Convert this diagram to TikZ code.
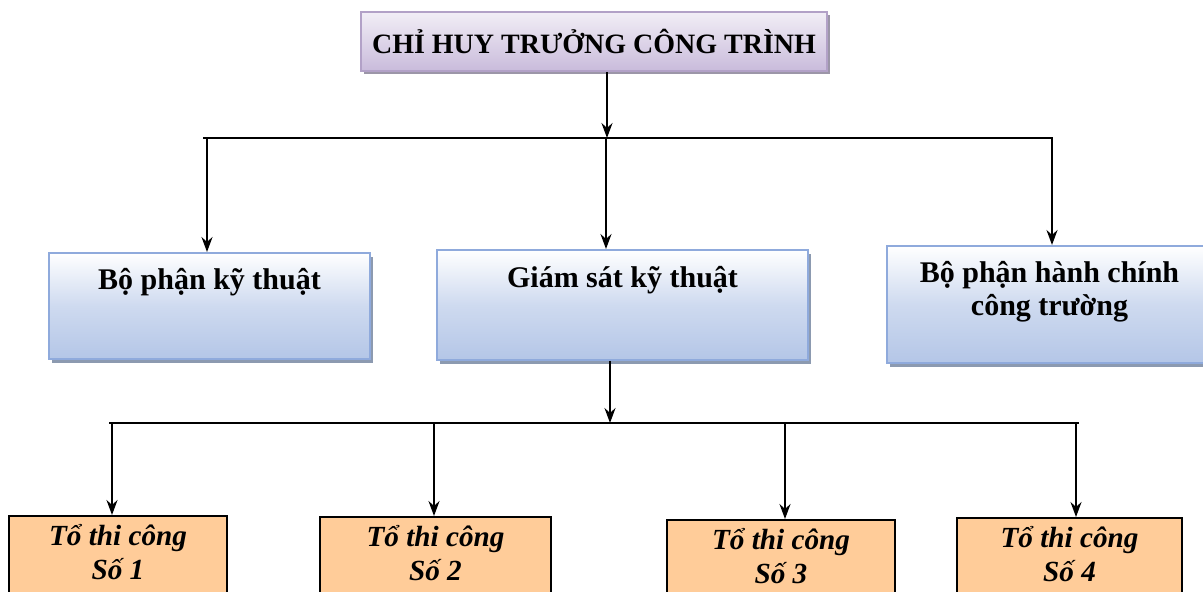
\documentclass[tikz,border=0pt]{standalone}
\usepackage{fontspec}
\setmainfont{Liberation Serif}
\usetikzlibrary{arrows.meta,shadows}
\definecolor{lilac}{HTML}{C9BBDB}
\definecolor{lilacline}{HTML}{B2A1C7}
\definecolor{lilacshadow}{HTML}{9C96A8}
\definecolor{paleblue}{HTML}{B4C6E7}
\definecolor{blueline}{HTML}{8FAADC}
\definecolor{blueshadow}{HTML}{8C9AB0}
\definecolor{peach}{HTML}{FFCC99}

\begin{document}
\begin{tikzpicture}[x=0.5pt,y=-0.5pt,
    arr/.style={-{Stealth[length=7.5pt,width=5.5pt,inset=2.5pt]},line width=1pt},
    bus/.style={line width=1pt},
    head/.style={draw=lilacline,line width=1pt,top color=lilac!25!white,bottom color=lilac,
      drop shadow={shadow xshift=1.5pt,shadow yshift=-1.5pt,fill=lilacshadow,opacity=1},
      minimum width=233pt,minimum height=29.5pt,inner sep=0pt,
      font=\fontsize{14}{17}\selectfont\bfseries},
    dept/.style={draw=blueline,line width=1pt,top color=white,bottom color=paleblue,
      middle color=paleblue!65!white,
      drop shadow={shadow xshift=1.5pt,shadow yshift=-2pt,fill=blueshadow,opacity=1},
      anchor=north,inner sep=0pt,align=center,
      font=\fontsize{15}{16.5}\selectfont\bfseries},
    team/.style={draw=black,line width=1pt,fill=peach,anchor=north,inner sep=0pt,
      align=center,text height=31.5pt,text depth=18.5pt,
      font=\fontsize{14.6}{17}\selectfont\bfseries\itshape}]
  \useasboundingbox (0,0) rectangle (1203,592);
  \clip (0,0) rectangle (1203,592);

  \node[head] (chief) at (594,41.5) {CHỈ HUY TRƯỞNG CÔNG TRÌNH};

  \node[dept,minimum width=160.5pt,text height=18.5pt,text depth=34.5pt] (tech) at (209.5,252) {Bộ phận kỹ thuật};
  \node[dept,minimum width=185.5pt,text height=19pt,text depth=36pt] (sup) at (622.5,249) {Giám sát kỹ thuật};
  \node[dept,minimum width=162.5pt,text height=35pt,text depth=23.5pt] (admin) at (1049.5,245) {Bộ phận hành chính\\công trường};

  \node[team,minimum width=109pt] (team1) at (118,515) {Tổ thi công\\Số 1};
  \node[team,minimum width=115.5pt] (team2) at (435.5,516) {Tổ thi công\\Số 2};
  \node[team,minimum width=114pt] (team3) at (781,519) {Tổ thi công\\Số 3};
  \node[team,minimum width=112.5pt] (team4) at (1069.5,517) {Tổ thi công\\Số 4};

  % upper bus
  \coordinate (busL) at (203,138);
  \coordinate (busR) at (1053,138);
  \coordinate (top) at (607,138);
  \coordinate (d1) at (207,138);
  \coordinate (d2) at (606,138);
  \coordinate (d3) at (1052,138);
  % lower bus
  \coordinate (lowL) at (109,423);
  \coordinate (lowR) at (1079,423);
  \coordinate (mid) at (610,423);
  \coordinate (t1) at (112,423);
  \coordinate (t2) at (434,423);
  \coordinate (t3) at (785,423);
  \coordinate (t4) at (1076,423);

  \draw[bus] (busL) -- (busR);
  \draw[bus] (lowL) -- (lowR);
  \path[arr]
  (chief.south -| top) edge (top)
  (d1) edge (d1 |- tech.north)
  (d2) edge (d2 |- sup.north)
  (d3) edge (d3 |- admin.north)
  (sup.south -| mid) edge (mid)
  (t1) edge (t1 |- team1.north)
  (t2) edge (t2 |- team2.north)
  (t3) edge (t3 |- team3.north)
  (t4) edge (t4 |- team4.north)
  ;
\end{tikzpicture}
\end{document}
